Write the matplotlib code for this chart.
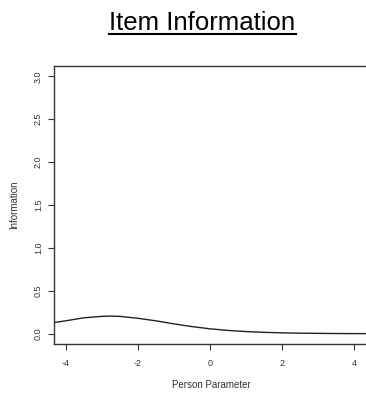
import numpy as np
from matplotlib import pyplot as plt

plt.rcParams['font.family'] = ['Liberation Sans', 'DejaVu Sans']

# item information curve
theta = [-4.32, -4.0, -3.5, -3.0, -2.75, -2.5, -2.0, -1.5, -1.0, -0.5, 0.0,
         0.5, 1.0, 1.5, 2.0, 2.5, 3.0, 3.5, 4.0, 4.32]
info = [0.13, 0.15, 0.185, 0.202, 0.205, 0.202, 0.18, 0.15, 0.115, 0.083, 0.057,
        0.038, 0.025, 0.016, 0.010, 0.006, 0.004, 0.002, 0.001, 0.001]
xticks = [-4, -2, 0, 2, 4]
yticks = [0.0, 0.5, 1.0, 1.5, 2.0, 2.5, 3.0]

W, H = 366, 394
fig = plt.figure(figsize=(W / 100, H / 100), dpi=100)
ax = fig.add_axes([54 / W, 1 - 344 / H, 313 / W, (344 - 66) / H])

ax.plot(theta, info, color='#222222', lw=1.0)
ax.set_xlim(-4.32, 4.35)
ax.set_ylim(-0.12, 3.12)

ax.set_xticks(xticks)
ax.set_xticklabels(['-4', '-2', '0', '2', '4'])
ax.set_yticks(yticks)
ax.set_yticklabels(['%.1f' % v for v in yticks], rotation=90, va='center')
ax.tick_params(labelsize=6.5, colors='#333333', length=4, width=0.8)
ax.tick_params(axis='x', pad=6.5)
ax.tick_params(axis='y', pad=4)
for s in ['left', 'bottom', 'top']:
    ax.spines[s].set_color('#333333')
    ax.spines[s].set_linewidth(1.0)
ax.spines['right'].set_visible(False)

fig.text(14 / W, 1 - 205 / H, 'Information', rotation=90, ha='center', va='center',
         fontsize=7, color='#333333')
fig.text(211 / W, 1 - 385 / H, 'Person Parameter', ha='center', va='center',
         fontsize=7, color='#333333')

t = fig.text(202.5 / W, 1 - 30.5 / H, 'Item Information', ha='center', va='baseline',
             fontsize=18.5, color='black')
fig.canvas.draw()
bb = t.get_window_extent()
fig.add_artist(plt.Line2D([bb.x0 / W, bb.x1 / W], [1 - 33.5 / H, 1 - 33.5 / H],
                          transform=fig.transFigure, color='black', lw=1.5))

fig.savefig('out.png', dpi=100)
